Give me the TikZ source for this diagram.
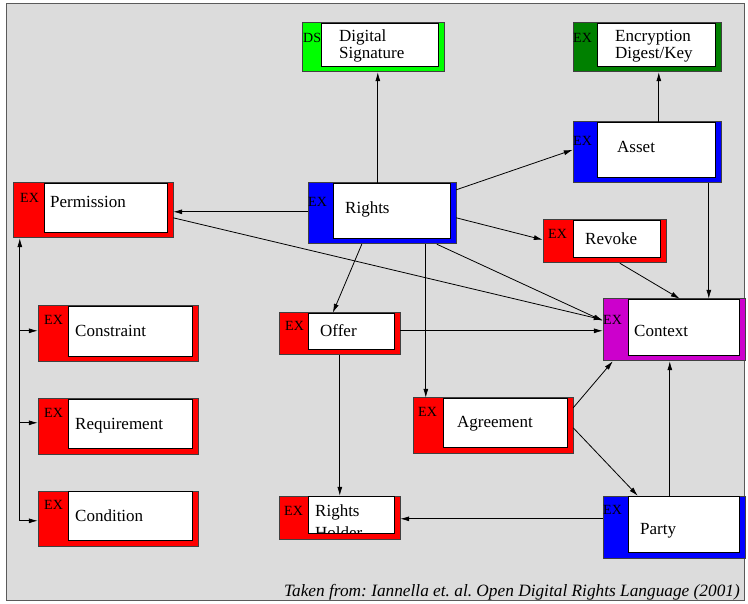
\documentclass[tikz,border=0pt]{standalone}
\usepackage{fontspec}
\setmainfont{Liberation Serif}
\usetikzlibrary{calc,fit,arrows.meta}
\frenchspacing
\definecolor{bg}{RGB}{220,220,220}
\definecolor{frameline}{RGB}{90,90,90}
\definecolor{boxline}{RGB}{64,64,64}
\definecolor{exred}{RGB}{255,0,0}
\definecolor{exblue}{RGB}{0,0,255}
\definecolor{dsgreen}{RGB}{0,255,0}
\definecolor{exgreen}{RGB}{0,128,0}
\definecolor{exmag}{RGB}{204,0,204}
\tikzset{
  outerbox/.style={draw=boxline, line width=1pt},
  innerbox/.style={draw=black, fill=white, line width=0.8pt},
  tagtext/.style={inner sep=0pt, anchor=north west, font=\fontsize{14}{16}\selectfont},
  labeltext/.style={inner sep=0pt, anchor=base west, font=\fontsize{17}{20}\selectfont},
  arr/.style={draw=black, line width=0.8pt, -{Latex[length=9pt,width=5pt]}},
}
% #1 name, #2 x1, #3 y1, #4 x2, #5 y2, #6 inner left offset, #7 colour, #8 tag position, #9 tag
\newcommand\dbox[9]{%
  \path[outerbox, fill=#7] (#2,#3) rectangle (#4,#5);
  \node[fit={(#2,#3) (#4,#5)}, inner sep=0pt] (#1) {};
  \path[innerbox] ($(#2,#3)+(#6,0)$) rectangle ($(#4,#5)+(-6,-6)$);
  \node[tagtext] at ($(#2,#3)+(#8)$) {#9};
}
\begin{document}
\begin{tikzpicture}[x=1pt,y=-1pt]
\useasboundingbox (0,0) rectangle (748,604);
\path[fill=white] (0,0) rectangle (748,604);
\path[draw=frameline, fill=bg, line width=1pt] (6,4) rectangle (744,600);

% boxes
\dbox{ds}{302}{23}{444}{72}{19}{dsgreen}{1,10}{DS}
\dbox{enc}{573}{23}{721}{72}{24}{exgreen}{0,10}{EX}
\dbox{asset}{573}{122}{721}{183}{24}{exblue}{0,14}{EX}
\dbox{perm}{13}{183}{173}{238}{31}{exred}{7,10}{EX}
\dbox{rights}{308}{183}{456}{244}{25}{exblue}{0,14}{EX}
\dbox{revoke}{543}{220}{666}{263}{30}{exred}{5,9}{EX}
\dbox{context}{603}{299}{745}{361}{25}{exmag}{0,16}{EX}
\dbox{offer}{279}{313}{400}{355}{29}{exred}{6,8}{EX}
\dbox{constraint}{38}{306}{198}{362}{30}{exred}{6,9}{EX}
\dbox{requirement}{38}{399}{198}{454}{30}{exred}{6,9}{EX}
\dbox{condition}{38}{491}{198}{546}{30}{exred}{6,9}{EX}
\dbox{agree}{413}{398}{573}{453}{30}{exred}{5,9}{EX}
\dbox{rh}{279}{496}{400}{539}{29}{exred}{5,10}{EX}
\dbox{party}{603}{496}{745}{558}{25}{exblue}{0,9}{EX}

% labels
\node[labeltext] (dsl1) at (339,42) {Digital};
\node[labeltext] (dsl2) at (339,59) {Signature};
\node[labeltext] (encl1) at (615,42) {Encryption};
\node[labeltext] (encl2) at (615,59) {Digest/Key};
\node[labeltext] (assetl) at (617,153) {Asset};
\node[labeltext] (perml) at (50,208) {Permission};
\node[labeltext] (rightsl) at (345,214) {Rights};
\node[labeltext] (revokel) at (585,245) {Revoke};
\node[labeltext] (contextl) at (634,337) {Context};
\node[labeltext] (offerl) at (320,337) {Offer};
\node[labeltext] (constraintl) at (75,337) {Constraint};
\node[labeltext] (requirementl) at (75,429) {Requirement};
\node[labeltext] (conditionl) at (75,521) {Condition};
\node[labeltext] (agreel) at (457,428) {Agreement};
\node[labeltext] (partyl) at (640,534) {Party};
\begin{scope}
  \clip (308,496) rectangle (395,533);
  \node[labeltext] (rhl1) at (315,516) {Rights};
  \node[labeltext] (rhl2) at (315,538) {Holder};
\end{scope}

% connectors
\draw[arr] ($(rights.north west)+(70,0)$) -- ($(ds.south west)+(76,0)$);
\draw[arr] ($(asset.north west)+(86,0)$) -- ($(enc.south west)+(86,0)$);
\draw[arr] ($(rights.north east)+(0,7)$) -- ($(asset.north west)+(0,28)$);
\draw[arr] ($(rights.north west)+(0,29)$) -- ($(perm.north east)+(0,29)$);
\draw[arr] ($(rights.north east)+(0,35)$) -- ($(revoke.north west)+(0,20)$);
\draw[arr] ($(rights.south west)+(54,0)$) -- ($(offer.north west)+(54,0)$);
\draw[arr] ($(rights.south west)+(118,0)$) -- ($(agree.north west)+(13,0)$);
\draw[arr] ($(rights.south west)+(129,0)$) -- ($(context.north west)+(0,22)$);
\draw[arr] ($(perm.north east)+(0,35)$) -- ($(context.north west)+(0,21)$);
\draw[arr] ($(revoke.south west)+(77,0)$) -- ($(context.north west)+(77,0)$);
\draw[arr] ($(asset.south west)+(136,0)$) -- ($(context.north west)+(106,0)$);
\draw[arr] ($(offer.north east)+(0,18)$) -- ($(context.north west)+(0,32)$);
\draw[arr] ($(agree.north east)+(0,10)$) -- ($(context.south west)+(10,0)$);
\draw[arr] ($(party.north west)+(67,0)$) -- ($(context.south west)+(67,0)$);
\draw[arr] ($(offer.south west)+(61,0)$) -- ($(rh.north west)+(61,0)$);
\draw[arr] ($(agree.north east)+(0,30)$) -- ($(party.north west)+(35,0)$);
\draw[arr] ($(party.north west)+(0,23)$) -- ($(rh.north east)+(0,23)$);

% permission bracket
\draw[arr] ($(condition.north west)+(-18,30)$) -- ($(perm.south west)+(7,0)$);
\draw[arr] ($(constraint.north west)+(-18,25)$) -- ($(constraint.north west)+(0,25)$);
\draw[arr] ($(requirement.north west)+(-18,24)$) -- ($(requirement.north west)+(0,24)$);
\draw[arr] ($(condition.north west)+(-18,30)$) -- ($(condition.north west)+(0,30)$);

% credit
\node[inner sep=0pt, anchor=base east, font=\fontsize{17.3}{19}\selectfont\itshape] (credit) at (740,596)
  {Taken from: Iannella et. al. Open Digital Rights Language (2001)};
\end{tikzpicture}
\end{document}
